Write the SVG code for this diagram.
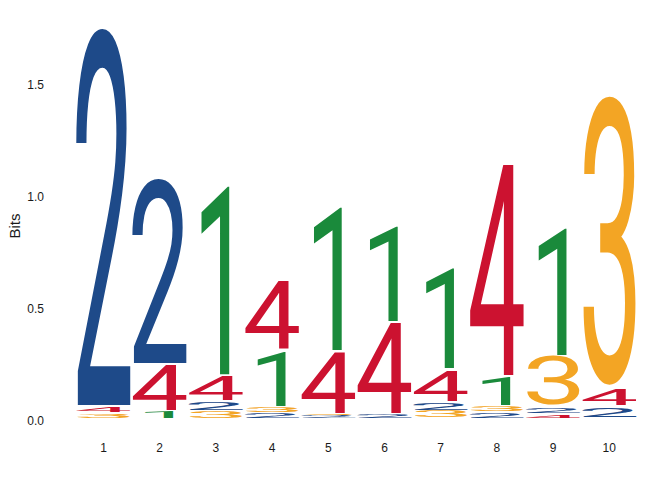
<svg xmlns="http://www.w3.org/2000/svg" width="672" height="480" viewBox="0 0 672 480">
<style>
.b{fill:#1e4a89}.r{fill:#cc1230}.g{fill:#1a8a3b}.o{fill:#f3a524}
.ax{font-family:"Liberation Sans",Arial,sans-serif;font-size:12px;fill:#1a1a1a}
.tl{font-family:"Liberation Sans",Arial,sans-serif;font-size:15px;fill:#1a1a1a}
</style>
<defs>
<text id="d1" font-family="Roboto, sans-serif" font-size="100" x="-22.5" y="0">1</text>
<text id="d2" font-family="Roboto, sans-serif" font-size="100" x="-28.75" y="0">2</text>
<text id="d3" font-family="Roboto, sans-serif" font-size="100" x="-27" y="-1.5">3</text>
<text id="d4" font-family="Roboto, sans-serif" font-size="100" x="-28.3" y="0">4</text>
</defs>
<rect width="672" height="480" fill="#fff"/>
<g id="axis-y">
<text class="ax" x="44" y="424.5" text-anchor="end">0.0</text>
<text class="ax" x="44" y="312.5" text-anchor="end">0.5</text>
<text class="ax" x="44" y="200.5" text-anchor="end">1.0</text>
<text class="ax" x="44" y="88.5" text-anchor="end">1.5</text>
<text class="tl" transform="translate(19.5,226) rotate(-90)" text-anchor="middle">Bits</text>
</g>
<g id="axis-x">
<text class="ax" x="103.5" y="452" text-anchor="middle">1</text>
<text class="ax" x="159.7" y="452" text-anchor="middle">2</text>
<text class="ax" x="215.9" y="452" text-anchor="middle">3</text>
<text class="ax" x="272.1" y="452" text-anchor="middle">4</text>
<text class="ax" x="328.3" y="452" text-anchor="middle">5</text>
<text class="ax" x="384.5" y="452" text-anchor="middle">6</text>
<text class="ax" x="440.7" y="452" text-anchor="middle">7</text>
<text class="ax" x="496.9" y="452" text-anchor="middle">8</text>
<text class="ax" x="553.1" y="452" text-anchor="middle">9</text>
<text class="ax" x="609.3" y="452" text-anchor="middle">10</text>
</g>
<g id="pos1">
<use href="#d2" class="b" transform="translate(103.5,405) scale(1.126,5.218)"/>
<use href="#d4" class="r" transform="translate(103.5,412.3) scale(1.039,0.0788)"/>
<use href="#d3" class="o" transform="translate(103.5,418) scale(1.151,0.0581)"/>
</g>
<g id="pos2">
<use href="#d2" class="b" transform="translate(159.7,362.7) scale(1.126,2.543)"/>
<use href="#d4" class="r" transform="translate(159.7,409.5) scale(1.039,0.636)"/>
<use href="#d1" class="g" transform="translate(159.7,417.5) scale(1.017,0.0844)"/>
</g>
<g id="pos3">
<use href="#d1" class="g" transform="translate(215.9,374.3) scale(1.017,2.624)"/>
<use href="#d4" class="r" transform="translate(215.9,400) scale(1.039,0.331)"/>
<use href="#d2" class="b" transform="translate(215.9,410.3) scale(1.126,0.110)"/>
<use href="#d3" class="o" transform="translate(215.9,417.7) scale(1.151,0.0811)"/>
</g>
<g id="pos4">
<use href="#d4" class="r" transform="translate(272.1,349) scale(1.039,0.947)"/>
<use href="#d1" class="g" transform="translate(272.1,406) scale(1.017,0.759)"/>
<use href="#d3" class="o" transform="translate(272.1,411.7) scale(1.151,0.0703)"/>
<use href="#d2" class="b" transform="translate(272.1,417.5) scale(1.126,0.0759)"/>
</g>
<g id="pos5">
<use href="#d1" class="g" transform="translate(328.3,349.5) scale(1.017,1.986)"/>
<use href="#d4" class="r" transform="translate(328.3,412.7) scale(1.039,0.861)"/>
<use href="#d3" class="o" transform="translate(328.3,415.3) scale(1.151,0.0243)"/>
<use href="#d2" class="b" transform="translate(328.3,418) scale(1.126,0.0303)"/>
</g>
<g id="pos6">
<use href="#d1" class="g" transform="translate(384.5,321) scale(1.017,1.312)"/>
<use href="#d4" class="r" transform="translate(384.5,412.5) scale(1.039,1.266)"/>
<use href="#d2" class="b" transform="translate(384.5,417.5) scale(1.126,0.0483)"/>
</g>
<g id="pos7">
<use href="#d1" class="g" transform="translate(440.7,368.3) scale(1.017,1.383)"/>
<use href="#d4" class="r" transform="translate(440.7,401) scale(1.039,0.429)"/>
<use href="#d2" class="b" transform="translate(440.7,410) scale(1.126,0.0924)"/>
<use href="#d3" class="o" transform="translate(440.7,417.5) scale(1.151,0.0878)"/>
</g>
<g id="pos8">
<use href="#d4" class="r" transform="translate(496.9,375) scale(1.039,2.954)"/>
<use href="#d1" class="g" transform="translate(496.9,404.5) scale(1.017,0.387)"/>
<use href="#d3" class="o" transform="translate(496.9,411) scale(1.151,0.0716)"/>
<use href="#d2" class="b" transform="translate(496.9,417.5) scale(1.126,0.0717)"/>
</g>
<g id="pos9">
<use href="#d1" class="g" transform="translate(553.1,354.5) scale(1.017,1.765)"/>
<use href="#d3" class="o" transform="translate(553.1,405) scale(1.151,0.662)"/>
<use href="#d2" class="b" transform="translate(553.1,413.3) scale(1.126,0.069)"/>
<use href="#d4" class="r" transform="translate(553.1,418) scale(1.039,0.0323)"/>
</g>
<g id="pos10">
<use href="#d3" class="o" transform="translate(609.3,386.7) scale(1.151,3.942)"/>
<use href="#d4" class="r" transform="translate(609.3,405) scale(1.039,0.225)"/>
<use href="#d2" class="b" transform="translate(609.3,417.3) scale(1.126,0.128)"/>
</g>
</svg>
